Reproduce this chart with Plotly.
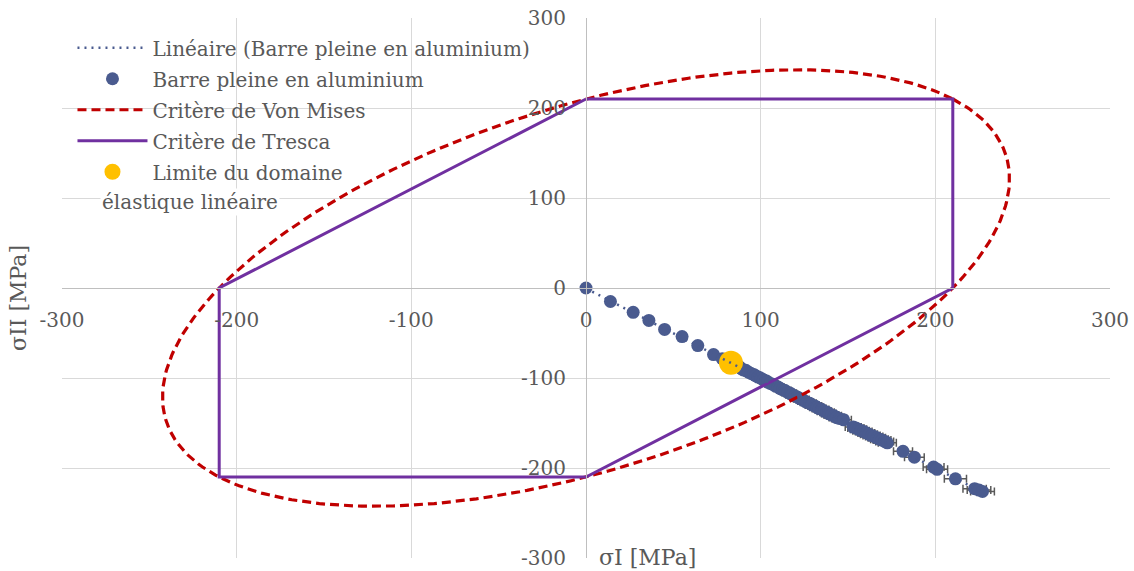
import numpy as np
import plotly.graph_objects as go

# Measured principal stresses on the solid aluminium bar [MPa]
sigma_I = [0, 14, 27, 36, 45, 55, 64, 73,
           78, 80, 81.5, 83, 84.5, 86, 87.5, 89, 90, 91.5, 93, 94.5, 96, 97,
           98.5, 100, 101.5, 103, 104, 105.5, 107, 108.5, 110, 111, 112.5, 114,
           115.5, 117, 118, 119.5, 121, 122.5, 124, 125, 126.5, 128, 129.5, 131,
           132, 133.5, 135, 136.5, 138, 139, 140.5, 142, 143.5, 145, 147.5,
           153, 154.5, 156, 157.5, 159, 160.5, 162, 163.5, 165, 166.5, 168,
           169.5, 171, 172.5,
           181.5, 188, 199, 201, 211.5, 222.5, 225, 227]
sigma_II = [0, -15, -27, -36, -46, -54, -64, -74,
            -78.5, -80, -82, -83, -85, -86.5, -87, -89.5, -91, -91.5, -93.5, -95, -96, -97.5,
            -99, -100, -102, -103, -104.5, -106, -107, -109, -110, -111.5, -113, -114,
            -116, -117, -118.5, -120, -121, -123, -124, -125.5, -127, -128, -130, -131,
            -132.5, -134, -135, -137, -138, -139.5, -141, -142, -144, -145, -146.5,
            -154.5, -155.5, -157, -158.5, -159.5, -161, -162.5, -164, -165, -166.5, -168,
            -169, -170.5, -172,
            -181.5, -188, -199, -201.5, -212, -223, -224.5, -226]

# Limit of the linear elastic domain
limit_I = [83]
limit_II = [-83]

# Yield stress used by both criteria [MPa]
sigma_y = 210

# Tresca hexagon vertices
tresca_I = [0, 210, 210, 0, -210, -210, 0]
tresca_II = [210, 210, 0, -210, -210, 0, 210]

tick_vals = [-300, -200, -100, 0, 100, 200, 300]
tick_text = ["-300", "-200", "-100", "0", "100", "200", "300"]

# Von Mises ellipse: s1^2 - s1*s2 + s2^2 = sigma_y^2
t = np.linspace(0, 2 * np.pi, 361)
u = np.sqrt(2) * sigma_y * np.cos(t)
v = np.sqrt(2.0 / 3.0) * sigma_y * np.sin(t)
vm_I = (u + v) / np.sqrt(2)
vm_II = (u - v) / np.sqrt(2)

# Linear trendline through the measured points
slope, intercept = np.polyfit(sigma_I, sigma_II, 1)
trend_I = np.array([min(sigma_I), max(sigma_I)])
trend_II = slope * trend_I + intercept

FONT = "Georgia, 'DejaVu Serif', serif"
TXT = "#595959"
BLUE = "#4A5B8F"

fig = go.Figure()

fig.add_trace(go.Scatter(
    x=sigma_I, y=sigma_II, mode="markers", name="Barre pleine en aluminium",
    marker=dict(color=BLUE, size=13),
    error_x=dict(type="percent", value=3, color="#595959", thickness=1.5, width=4),
    legendrank=2,
))
fig.add_trace(go.Scatter(
    x=vm_I, y=vm_II, mode="lines", name="Critère de Von Mises",
    line=dict(color="#C00000", width=3.2, dash="9px,5px"),
    legendrank=3,
))
fig.add_trace(go.Scatter(
    x=tresca_I, y=tresca_II, mode="lines", name="Critère de Tresca",
    line=dict(color="#7030A0", width=3),
    legendrank=4,
))
fig.add_trace(go.Scatter(
    x=limit_I, y=limit_II, mode="markers", name="Limite du domaine",
    marker=dict(color="#FFC000", size=24),
    legendrank=5,
))
fig.add_trace(go.Scatter(
    x=trend_I, y=trend_II, mode="lines", name="Linéaire (Barre pleine en aluminium)",
    line=dict(color=BLUE, width=2.5, dash="2px,5px"),
    legendrank=1,
))

axis_common = dict(
    range=[-300, 300],
    tickvals=tick_vals,
    ticktext=tick_text,
    showgrid=True,
    gridcolor="#D9D9D9",
    gridwidth=1,
    zeroline=False,
    showline=True,
    linecolor="#BFBFBF",
    linewidth=1,
    ticks="",
    anchor="free",
    position=0.5,
    automargin=False,
    tickfont=dict(family=FONT, size=20, color=TXT),
    fixedrange=True,
)

fig.update_layout(
    width=1134, height=571,
    margin=dict(l=62, r=24, t=18, b=13),
    paper_bgcolor="white",
    plot_bgcolor="white",
    xaxis=dict(**axis_common, ticklabelstandoff=14),
    yaxis=dict(**axis_common, ticklabelstandoff=16),
    showlegend=True,
    legend=dict(
        x=0.01, y=0.981, xanchor="left", yanchor="top",
        bgcolor="rgba(0,0,0,0)",
        font=dict(family=FONT, size=20, color=TXT),
        itemwidth=70,
        tracegroupgap=2,
    ),
    annotations=[
        dict(text="élastique linéaire", xref="paper", yref="paper",
             x=(100 - 62) / 1048, y=(558 - 202) / 540, xanchor="left", yanchor="middle",
             showarrow=False, bgcolor="white",
             font=dict(family=FONT, size=20, color=TXT)),
        dict(text="σI [MPa]", xref="paper", yref="paper",
             x=(647 - 62) / 1048, y=(558 - 557) / 540, xanchor="center", yanchor="middle",
             showarrow=False, bgcolor="white",
             font=dict(family=FONT, size=22, color=TXT)),
        dict(text="σII [MPa]", xref="paper", yref="paper",
             x=(18 - 62) / 1048, y=(558 - 298) / 540, xanchor="center", yanchor="middle",
             textangle=-90, showarrow=False,
             font=dict(family=FONT, size=22, color=TXT)),
    ],
)

# separate legend groups so the group gap spaces the entries
for i, tr in enumerate(fig.data):
    tr.legendgroup = f"g{i}"

fig.write_html("out.html")
